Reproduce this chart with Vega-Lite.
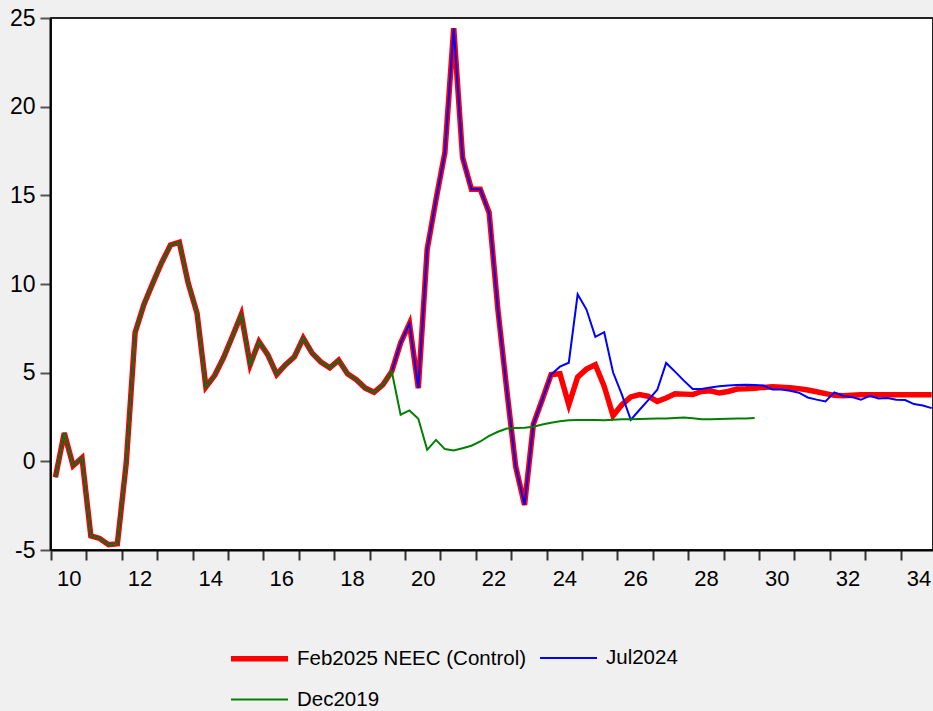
{
  "$schema": "https://vega.github.io/schema/vega-lite/v6.json",
  "autosize": "none",
  "width": 882,
  "height": 532,
  "padding": {"left": 51, "top": 18, "right": 0, "bottom": 161},
  "background": "#f0f0f0",
  "config": {
    "font": "Liberation Sans",
    "view": {"fill": "white", "stroke": "#222", "strokeWidth": 2},
    "axis": {"labelFont": "Liberation Sans", "labelColor": "#000", "labelFontSize": 22, "grid": false, "title": null, "domainColor": "#000", "domainWidth": 2, "tickSize": 10, "tickWidth": 2, "labelFlush": false, "labelBound": false, "labelOverlap": false},
    "legend": {"labelFont": "Liberation Sans", "labelColor": "#000"}
  },
  "data": {
    "values": [
      {"t": 2010.125, "Feb2025 NEEC (Control)": -0.9, "Jul2024": -0.9, "Dec2019": -0.9},
      {"t": 2010.375, "Feb2025 NEEC (Control)": 1.6, "Jul2024": 1.6, "Dec2019": 1.6},
      {"t": 2010.625, "Feb2025 NEEC (Control)": -0.25, "Jul2024": -0.25, "Dec2019": -0.25},
      {"t": 2010.875, "Feb2025 NEEC (Control)": 0.2, "Jul2024": 0.2, "Dec2019": 0.2},
      {"t": 2011.125, "Feb2025 NEEC (Control)": -4.2, "Jul2024": -4.2, "Dec2019": -4.2},
      {"t": 2011.375, "Feb2025 NEEC (Control)": -4.35, "Jul2024": -4.35, "Dec2019": -4.35},
      {"t": 2011.625, "Feb2025 NEEC (Control)": -4.7, "Jul2024": -4.7, "Dec2019": -4.7},
      {"t": 2011.875, "Feb2025 NEEC (Control)": -4.65, "Jul2024": -4.65, "Dec2019": -4.65},
      {"t": 2012.125, "Feb2025 NEEC (Control)": -0.1, "Jul2024": -0.1, "Dec2019": -0.1},
      {"t": 2012.375, "Feb2025 NEEC (Control)": 7.25, "Jul2024": 7.25, "Dec2019": 7.25},
      {"t": 2012.625, "Feb2025 NEEC (Control)": 8.85, "Jul2024": 8.85, "Dec2019": 8.85},
      {"t": 2012.875, "Feb2025 NEEC (Control)": 10.05, "Jul2024": 10.05, "Dec2019": 10.05},
      {"t": 2013.125, "Feb2025 NEEC (Control)": 11.2, "Jul2024": 11.2, "Dec2019": 11.2},
      {"t": 2013.375, "Feb2025 NEEC (Control)": 12.2, "Jul2024": 12.2, "Dec2019": 12.2},
      {"t": 2013.625, "Feb2025 NEEC (Control)": 12.35, "Jul2024": 12.35, "Dec2019": 12.35},
      {"t": 2013.875, "Feb2025 NEEC (Control)": 10.05, "Jul2024": 10.05, "Dec2019": 10.05},
      {"t": 2014.125, "Feb2025 NEEC (Control)": 8.35, "Jul2024": 8.35, "Dec2019": 8.35},
      {"t": 2014.375, "Feb2025 NEEC (Control)": 4.2, "Jul2024": 4.2, "Dec2019": 4.2},
      {"t": 2014.625, "Feb2025 NEEC (Control)": 4.85, "Jul2024": 4.85, "Dec2019": 4.85},
      {"t": 2014.875, "Feb2025 NEEC (Control)": 5.85, "Jul2024": 5.85, "Dec2019": 5.85},
      {"t": 2015.125, "Feb2025 NEEC (Control)": 7.05, "Jul2024": 7.05, "Dec2019": 7.05},
      {"t": 2015.375, "Feb2025 NEEC (Control)": 8.28, "Jul2024": 8.28, "Dec2019": 8.28},
      {"t": 2015.625, "Feb2025 NEEC (Control)": 5.45, "Jul2024": 5.45, "Dec2019": 5.45},
      {"t": 2015.875, "Feb2025 NEEC (Control)": 6.75, "Jul2024": 6.75, "Dec2019": 6.75},
      {"t": 2016.125, "Feb2025 NEEC (Control)": 6.0, "Jul2024": 6.0, "Dec2019": 6.0},
      {"t": 2016.375, "Feb2025 NEEC (Control)": 4.9, "Jul2024": 4.9, "Dec2019": 4.9},
      {"t": 2016.625, "Feb2025 NEEC (Control)": 5.45, "Jul2024": 5.45, "Dec2019": 5.45},
      {"t": 2016.875, "Feb2025 NEEC (Control)": 5.9, "Jul2024": 5.9, "Dec2019": 5.9},
      {"t": 2017.125, "Feb2025 NEEC (Control)": 6.95, "Jul2024": 6.95, "Dec2019": 6.95},
      {"t": 2017.375, "Feb2025 NEEC (Control)": 6.1, "Jul2024": 6.1, "Dec2019": 6.1},
      {"t": 2017.625, "Feb2025 NEEC (Control)": 5.6, "Jul2024": 5.6, "Dec2019": 5.6},
      {"t": 2017.875, "Feb2025 NEEC (Control)": 5.27, "Jul2024": 5.27, "Dec2019": 5.27},
      {"t": 2018.125, "Feb2025 NEEC (Control)": 5.7, "Jul2024": 5.7, "Dec2019": 5.7},
      {"t": 2018.375, "Feb2025 NEEC (Control)": 4.94, "Jul2024": 4.94, "Dec2019": 4.94},
      {"t": 2018.625, "Feb2025 NEEC (Control)": 4.6, "Jul2024": 4.6, "Dec2019": 4.6},
      {"t": 2018.875, "Feb2025 NEEC (Control)": 4.13, "Jul2024": 4.13, "Dec2019": 4.13},
      {"t": 2019.125, "Feb2025 NEEC (Control)": 3.89, "Jul2024": 3.89, "Dec2019": 3.89},
      {"t": 2019.375, "Feb2025 NEEC (Control)": 4.32, "Jul2024": 4.32, "Dec2019": 4.32},
      {"t": 2019.625, "Feb2025 NEEC (Control)": 5.07, "Jul2024": 5.07, "Dec2019": 5.07},
      {"t": 2019.875, "Feb2025 NEEC (Control)": 6.68, "Jul2024": 6.68, "Dec2019": 2.63},
      {"t": 2020.125, "Feb2025 NEEC (Control)": 7.77, "Jul2024": 7.77, "Dec2019": 2.87},
      {"t": 2020.375, "Feb2025 NEEC (Control)": 4.13, "Jul2024": 4.13, "Dec2019": 2.4},
      {"t": 2020.625, "Feb2025 NEEC (Control)": 11.95, "Jul2024": 11.95, "Dec2019": 0.65},
      {"t": 2020.875, "Feb2025 NEEC (Control)": 14.77, "Jul2024": 14.77, "Dec2019": 1.21},
      {"t": 2021.125, "Feb2025 NEEC (Control)": 17.41, "Jul2024": 17.41, "Dec2019": 0.69},
      {"t": 2021.375, "Feb2025 NEEC (Control)": 24.42, "Jul2024": 24.42, "Dec2019": 0.61},
      {"t": 2021.625, "Feb2025 NEEC (Control)": 17.13, "Jul2024": 17.13, "Dec2019": 0.74},
      {"t": 2021.875, "Feb2025 NEEC (Control)": 15.34, "Jul2024": 15.34, "Dec2019": 0.88},
      {"t": 2022.125, "Feb2025 NEEC (Control)": 15.34, "Jul2024": 15.34, "Dec2019": 1.12},
      {"t": 2022.375, "Feb2025 NEEC (Control)": 14.02, "Jul2024": 14.02, "Dec2019": 1.44},
      {"t": 2022.625, "Feb2025 NEEC (Control)": 8.5, "Jul2024": 8.5, "Dec2019": 1.67},
      {"t": 2022.875, "Feb2025 NEEC (Control)": 4.0, "Jul2024": 4.0, "Dec2019": 1.85},
      {"t": 2023.125, "Feb2025 NEEC (Control)": -0.29, "Jul2024": -0.29, "Dec2019": 1.88},
      {"t": 2023.375, "Feb2025 NEEC (Control)": -2.46, "Jul2024": -2.46, "Dec2019": 1.89},
      {"t": 2023.625, "Feb2025 NEEC (Control)": 2.1, "Jul2024": 2.1, "Dec2019": 1.95},
      {"t": 2023.875, "Feb2025 NEEC (Control)": 3.47, "Jul2024": 3.47, "Dec2019": 2.08},
      {"t": 2024.125, "Feb2025 NEEC (Control)": 4.89, "Jul2024": 4.89, "Dec2019": 2.18},
      {"t": 2024.375, "Feb2025 NEEC (Control)": 4.94, "Jul2024": 5.34, "Dec2019": 2.26},
      {"t": 2024.625, "Feb2025 NEEC (Control)": 3.19, "Jul2024": 5.56, "Dec2019": 2.31},
      {"t": 2024.875, "Feb2025 NEEC (Control)": 4.75, "Jul2024": 9.42, "Dec2019": 2.33},
      {"t": 2025.125, "Feb2025 NEEC (Control)": 5.2, "Jul2024": 8.56, "Dec2019": 2.33},
      {"t": 2025.375, "Feb2025 NEEC (Control)": 5.45, "Jul2024": 7.02, "Dec2019": 2.33},
      {"t": 2025.625, "Feb2025 NEEC (Control)": 4.23, "Jul2024": 7.28, "Dec2019": 2.31},
      {"t": 2025.875, "Feb2025 NEEC (Control)": 2.57, "Jul2024": 5.02, "Dec2019": 2.35},
      {"t": 2026.125, "Feb2025 NEEC (Control)": 3.19, "Jul2024": 3.76, "Dec2019": 2.37},
      {"t": 2026.375, "Feb2025 NEEC (Control)": 3.63, "Jul2024": 2.34, "Dec2019": 2.38},
      {"t": 2026.625, "Feb2025 NEEC (Control)": 3.77, "Jul2024": 2.91, "Dec2019": 2.39},
      {"t": 2026.875, "Feb2025 NEEC (Control)": 3.66, "Jul2024": 3.47, "Dec2019": 2.4},
      {"t": 2027.125, "Feb2025 NEEC (Control)": 3.38, "Jul2024": 4.04, "Dec2019": 2.41},
      {"t": 2027.375, "Feb2025 NEEC (Control)": 3.57, "Jul2024": 5.55, "Dec2019": 2.42},
      {"t": 2027.625, "Feb2025 NEEC (Control)": 3.81, "Jul2024": 5.06, "Dec2019": 2.45},
      {"t": 2027.875, "Feb2025 NEEC (Control)": 3.79, "Jul2024": 4.55, "Dec2019": 2.47},
      {"t": 2028.125, "Feb2025 NEEC (Control)": 3.77, "Jul2024": 4.08, "Dec2019": 2.43},
      {"t": 2028.375, "Feb2025 NEEC (Control)": 3.94, "Jul2024": 4.08, "Dec2019": 2.38},
      {"t": 2028.625, "Feb2025 NEEC (Control)": 3.98, "Jul2024": 4.17, "Dec2019": 2.38},
      {"t": 2028.875, "Feb2025 NEEC (Control)": 3.85, "Jul2024": 4.23, "Dec2019": 2.39},
      {"t": 2029.125, "Feb2025 NEEC (Control)": 3.94, "Jul2024": 4.28, "Dec2019": 2.4},
      {"t": 2029.375, "Feb2025 NEEC (Control)": 4.08, "Jul2024": 4.3, "Dec2019": 2.41},
      {"t": 2029.625, "Feb2025 NEEC (Control)": 4.09, "Jul2024": 4.32, "Dec2019": 2.42},
      {"t": 2029.875, "Feb2025 NEEC (Control)": 4.12, "Jul2024": 4.3, "Dec2019": 2.44},
      {"t": 2030.125, "Feb2025 NEEC (Control)": 4.17, "Jul2024": 4.27},
      {"t": 2030.375, "Feb2025 NEEC (Control)": 4.2, "Jul2024": 4.05},
      {"t": 2030.625, "Feb2025 NEEC (Control)": 4.18, "Jul2024": 4.05},
      {"t": 2030.875, "Feb2025 NEEC (Control)": 4.15, "Jul2024": 3.98},
      {"t": 2031.125, "Feb2025 NEEC (Control)": 4.1, "Jul2024": 3.87},
      {"t": 2031.375, "Feb2025 NEEC (Control)": 4.02, "Jul2024": 3.6},
      {"t": 2031.625, "Feb2025 NEEC (Control)": 3.92, "Jul2024": 3.48},
      {"t": 2031.875, "Feb2025 NEEC (Control)": 3.82, "Jul2024": 3.38},
      {"t": 2032.125, "Feb2025 NEEC (Control)": 3.72, "Jul2024": 3.89},
      {"t": 2032.375, "Feb2025 NEEC (Control)": 3.7, "Jul2024": 3.69},
      {"t": 2032.625, "Feb2025 NEEC (Control)": 3.72, "Jul2024": 3.62},
      {"t": 2032.875, "Feb2025 NEEC (Control)": 3.75, "Jul2024": 3.47},
      {"t": 2033.125, "Feb2025 NEEC (Control)": 3.75, "Jul2024": 3.7},
      {"t": 2033.375, "Feb2025 NEEC (Control)": 3.76, "Jul2024": 3.55},
      {"t": 2033.625, "Feb2025 NEEC (Control)": 3.76, "Jul2024": 3.57},
      {"t": 2033.875, "Feb2025 NEEC (Control)": 3.76, "Jul2024": 3.47},
      {"t": 2034.125, "Feb2025 NEEC (Control)": 3.76, "Jul2024": 3.46},
      {"t": 2034.375, "Feb2025 NEEC (Control)": 3.76, "Jul2024": 3.23},
      {"t": 2034.625, "Feb2025 NEEC (Control)": 3.76, "Jul2024": 3.15},
      {"t": 2034.875, "Feb2025 NEEC (Control)": 3.76, "Jul2024": 3.0}
    ]
  },
  "transform": [
    {"fold": ["Feb2025 NEEC (Control)", "Jul2024", "Dec2019"], "as": ["k", "v"]},
    {"filter": "isValid(datum.v)"}
  ],
  "encoding": {
    "x": {
      "field": "t", "type": "quantitative",
      "scale": {"domain": [2010, 2034.912], "nice": false, "zero": false},
      "axis": {
        "values": [2010, 2010.5, 2011, 2012, 2012.5, 2013, 2014, 2014.5, 2015, 2016, 2016.5, 2017, 2018, 2018.5, 2019, 2020, 2020.5, 2021, 2022, 2022.5, 2023, 2024, 2024.5, 2025, 2026, 2026.5, 2027, 2028, 2028.5, 2029, 2030, 2030.5, 2031, 2032, 2032.5, 2033, 2034, 2034.5],
        "labelExpr": "datum.value % 1 == 0 ? '' : '' + (floor(datum.value) % 100)",
        "tickOpacity": {"condition": {"test": "datum.value % 1 == 0", "value": 1}, "value": 0},
        "tickColor": "#333",
        "labelPadding": 8
      }
    },
    "y": {
      "field": "v", "type": "quantitative",
      "scale": {"domain": [-5, 25], "nice": false, "zero": false},
      "axis": {"values": [-5, 0, 5, 10, 15, 20, 25], "labelExpr": "'' + datum.value", "labelFontSize": 23, "tickColor": "#555", "labelPadding": 5, "offset": 1}
    },
    "color": {
      "field": "k", "type": "nominal",
      "scale": {"domain": ["Feb2025 NEEC (Control)", "Jul2024", "Dec2019"], "range": ["#ff0000", "#0000ff", "#008000"]},
      "legend": {"orient": "none", "legendX": 177, "legendY": 609, "columns": 2, "direction": "horizontal", "title": null, "symbolType": "stroke", "symbolSize": 3249, "labelFontSize": 20.5, "labelOffset": 6, "columnPadding": 9, "rowPadding": -26, "padding": 0, "labelLimit": 400}
    },
    "strokeWidth": {
      "field": "k", "type": "nominal",
      "scale": {"type": "ordinal", "domain": ["Feb2025 NEEC (Control)", "Jul2024", "Dec2019"], "range": [5.5, 2, 2]},
      "legend": {"orient": "none", "legendX": 177, "legendY": 609, "columns": 2, "direction": "horizontal", "title": null, "symbolType": "stroke", "symbolSize": 3249, "labelFontSize": 20.5, "labelOffset": 6, "columnPadding": 9, "rowPadding": -26, "padding": 0, "labelLimit": 400}
    }
  },
  "layer": [
    {"transform": [{"filter": {"field": "k", "equal": "Feb2025 NEEC (Control)"}}], "mark": {"type": "line"}},
    {"transform": [{"filter": {"field": "k", "equal": "Jul2024"}}], "mark": {"type": "line"}},
    {"transform": [{"filter": {"field": "k", "equal": "Dec2019"}}], "mark": {"type": "line"}}
  ]
}
